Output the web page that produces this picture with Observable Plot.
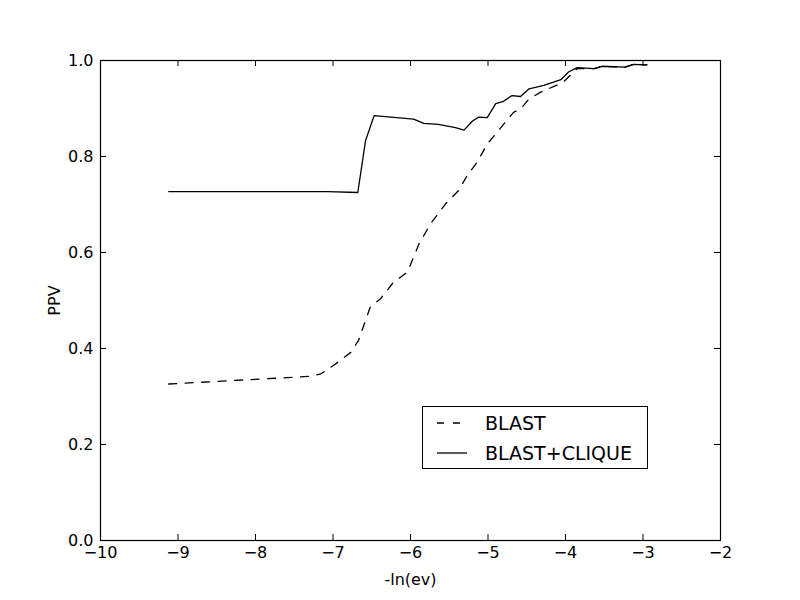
<!DOCTYPE html>
<html>
<head>
<meta charset="utf-8">
<script src="https://cdn.jsdelivr.net/npm/d3@7"></script>
<script src="https://cdn.jsdelivr.net/npm/@observablehq/plot@0.6"></script>
<style>
  html, body { margin: 0; padding: 0; background: #fff; }
  #wrap { position: relative; width: 800px; height: 600px; font-family: "DejaVu Sans", sans-serif; }
  #legend { position: absolute; left: 422px; top: 406px; width: 224px; height: 61px; border: 1px solid #000; background: #fff; }
  .row { position: absolute; left: 0; height: 20px; display: flex; align-items: center; }
  .row span { font-size: 19px; margin-left: 18px; color: #000; }
  .row svg { margin-left: 14px; }
</style>
</head>
<body>
<div id="wrap"></div>
<script>
// BLAST (dashed)
const blastX = [-9.12, -7.29, -7.16, -6.99, -6.77, -6.67, -6.52, -6.39, -6.22, -6.04, -5.89, -5.74, -5.55, -5.38, -5.27, -5.14, -5.01, -4.90, -4.75, -4.67, -4.58, -4.47, -4.32, -4.15, -4.04, -3.94, -3.85, -3.63, -3.53, -3.23, -3.12, -2.95];
const blastY = [0.326, 0.342, 0.347, 0.365, 0.392, 0.417, 0.486, 0.503, 0.538, 0.559, 0.618, 0.660, 0.701, 0.729, 0.760, 0.788, 0.826, 0.847, 0.877, 0.892, 0.899, 0.920, 0.934, 0.946, 0.953, 0.969, 0.983, 0.983, 0.988, 0.986, 0.992, 0.991];
// BLAST+CLIQUE (solid)
const cliqueX = [-9.12, -7.07, -6.68, -6.58, -6.47, -5.96, -5.83, -5.64, -5.42, -5.31, -5.20, -5.12, -5.01, -4.90, -4.80, -4.69, -4.58, -4.47, -4.28, -4.06, -3.96, -3.85, -3.63, -3.53, -3.23, -3.12, -2.95];
const cliqueY = [0.727, 0.727, 0.725, 0.833, 0.885, 0.878, 0.869, 0.867, 0.860, 0.855, 0.874, 0.882, 0.881, 0.910, 0.915, 0.927, 0.925, 0.941, 0.948, 0.960, 0.976, 0.985, 0.983, 0.988, 0.986, 0.992, 0.991];
const xTicks = [-10, -9, -8, -7, -6, -5, -4, -3, -2];
const yTicks = [0.0, 0.2, 0.4, 0.6, 0.8, 1.0];
const seriesNames = ["BLAST", "BLAST+CLIQUE"];

const blast = blastX.map((x, i) => ({x, y: blastY[i]}));
const clique = cliqueX.map((x, i) => ({x, y: cliqueY[i]}));

const W = 800, H = 600, ML = 100, MR = 80, MT = 60, MB = 60;
const innerW = W - ML - MR, innerH = H - MT - MB;
const T = 6;
const fmtX = d => (d < 0 ? "\u2212" + Math.abs(d) : String(d));

const chart = Plot.plot({
  width: W, height: H,
  marginLeft: ML, marginRight: MR, marginTop: MT, marginBottom: MB,
  style: { fontFamily: "DejaVu Sans, sans-serif", fontSize: "16px", color: "#000", background: "#fff" },
  x: { domain: [-10, -2] },
  y: { domain: [0, 1] },
  marks: [
    Plot.line(blast, { x: "x", y: "y", stroke: "#000", strokeWidth: 1.3, strokeDasharray: "8,8.5" }),
    Plot.line(clique, { x: "x", y: "y", stroke: "#000", strokeWidth: 1.3 }),
    Plot.frame({ stroke: "#000", strokeWidth: 1.2 }),
    Plot.tickX(xTicks, { x: d => d, insetTop: innerH - T, stroke: "#000" }),
    Plot.tickX(xTicks, { x: d => d, insetBottom: innerH - T, stroke: "#000" }),
    Plot.tickY(yTicks, { y: d => d, insetRight: innerW - T, stroke: "#000" }),
    Plot.tickY(yTicks, { y: d => d, insetLeft: innerW - T, stroke: "#000" }),
    Plot.axisX({ ticks: xTicks, tickSize: 0, tickPadding: 6, tickFormat: fmtX, fontSize: 16,
                 label: "-ln(ev)", labelAnchor: "center", labelOffset: 44, labelArrow: "none" }),
    Plot.axisY({ ticks: yTicks, tickSize: 0, tickPadding: 7, tickFormat: d => d.toFixed(1), fontSize: 16,
                 label: "PPV", labelAnchor: "center", labelOffset: 52, labelArrow: "none" })
  ]
});
const wrap = document.getElementById("wrap");
wrap.appendChild(chart);

const legend = document.createElement("div");
legend.id = "legend";
const rows = [
  { name: seriesNames[0], dash: "8,8" },
  { name: seriesNames[1], dash: null }
];
rows.forEach((r, i) => {
  const row = document.createElement("div");
  row.className = "row";
  row.style.top = (i === 0 ? 6 : 36) + "px";
  const svg = d3.create("svg").attr("width", 30).attr("height", 20);
  const ln = svg.append("line").attr("x1", 0).attr("x2", 30).attr("y1", 10).attr("y2", 10)
    .attr("stroke", "#000").attr("stroke-width", 1.3);
  if (r.dash) ln.attr("stroke-dasharray", "7,9").attr("stroke-dashoffset", 0);
  row.appendChild(svg.node());
  const s = document.createElement("span");
  s.textContent = r.name;
  row.appendChild(s);
  legend.appendChild(row);
});
wrap.appendChild(legend);
</script>
</body>
</html>
